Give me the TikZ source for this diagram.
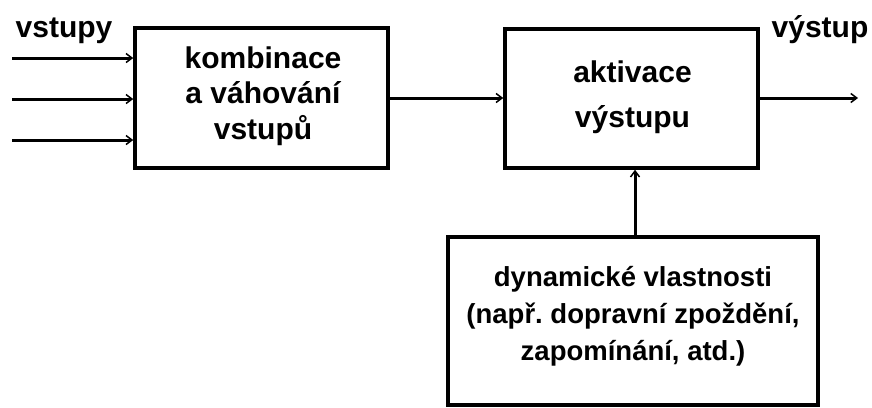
\documentclass[tikz,border=0pt]{standalone}
\usepackage{fontspec}
\setmainfont{Liberation Sans}
\usetikzlibrary{arrows.meta}
\frenchspacing
\begin{document}
\begin{tikzpicture}[x=1pt,y=-1pt,
  blk/.style={draw, line width=3.5pt, inner sep=0pt},
  conn/.style={line width=3pt, -{Straight Barb[length=6pt,width=9pt,line width=1.5pt]}},
  big/.style={font=\fontsize{30}{36}\selectfont\bfseries, inner sep=0pt, anchor=base},
  small/.style={font=\fontsize{27.5}{36}\selectfont\bfseries, inner sep=0pt, anchor=base}]
\useasboundingbox (0,0) rectangle (872,407);
\node[blk, minimum width=253pt, minimum height=140pt] (k) at (261.5,98) {};
\node[blk, minimum width=253pt, minimum height=139pt] (a) at (631.5,98.5) {};
\node[blk, minimum width=370pt, minimum height=168pt] (d) at (633,321) {};
\node[big] (k1) at (263,68) {kombinace};
\node[big] (k2) at (263,103) {a váhování};
\node[big] (k3) at (263,139) {vstupů};
\node[big] (a1) at (632.5,82) {aktivace};
\node[big] (a2) at (632.5,127) {výstupu};
\node[small] (d1) at (633,286) {dynamické vlastnosti};
\node[small] (d2) at (633,323) {(např.\ dopravní zpoždění,};
\node[small] (d3) at (633,360) {zapomínání, atd.)};
\coordinate (i1) at (12,58);
\coordinate (i2) at (12,99);
\coordinate (i3) at (12,140);
\coordinate (o) at (858,98);
\draw[conn] (i1) -- (k.west |- i1);
\draw[conn] (i2) -- (k.west |- i2);
\draw[conn] (i3) -- (k.west |- i3);
\draw[conn] (k.east |- 0,98) -- (a.west |- 0,98);
\draw[conn] (a.east |- 0,98) -- (o);
\draw[conn] (d.north -| 635,0) -- (a.south -| 635,0);
\node[big] (vin) at (64,37) {vstupy};
\node[big] (vout) at (820,37) {výstup};
\end{tikzpicture}
\end{document}
